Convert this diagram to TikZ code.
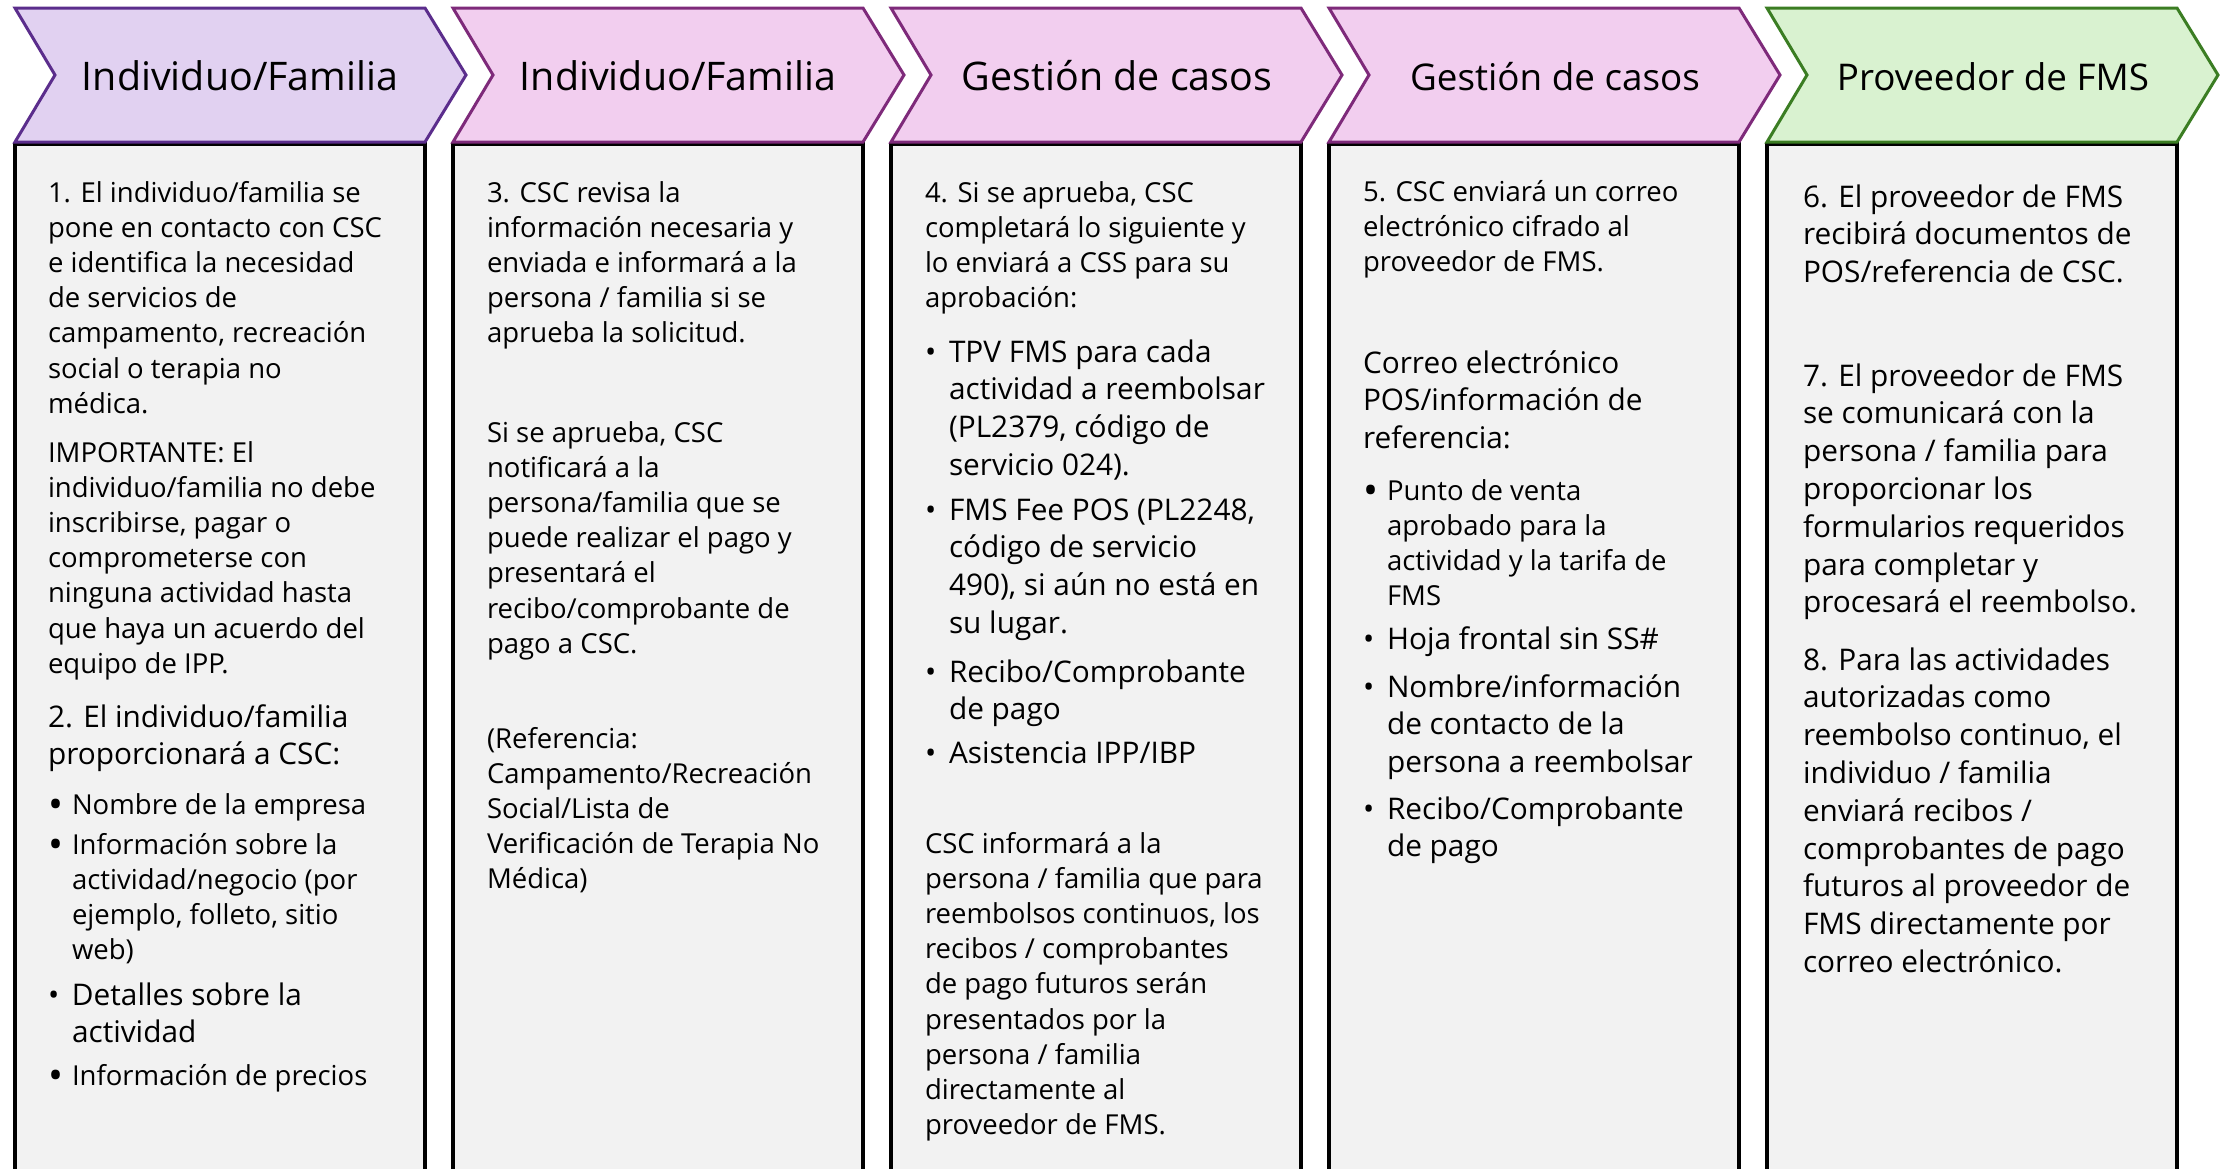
\documentclass[tikz,border=0pt]{standalone}
\usepackage{fontspec}
\setmainfont{Open Sans}
\usepackage{array}
\usepackage{graphicx}
\definecolor{boxfill}{HTML}{F2F2F2}
\definecolor{lavfill}{HTML}{E1D1F1}
\definecolor{lavline}{HTML}{5B2D8C}
\definecolor{pinkfill}{HTML}{F2CEEF}
\definecolor{pinkline}{HTML}{7E2A7A}
\definecolor{greenfill}{HTML}{D9F2D0}
\definecolor{greenline}{HTML}{3B7D23}
\newcommand\txtS{\fontsize{27.5}{35.2}\selectfont}
\newcommand\txtL{\fontsize{29.8}{37.8}\selectfont}
\newcommand\hdA{\fontsize{39.4}{46}\selectfont}
\newcommand\hdB{\fontsize{36.8}{44}\selectfont}
\newcommand\bigbul{\raisebox{-0.17em}{\scalebox{1.45}{•}}}
\newenvironment{lns}{\begin{tabular}[t]{@{}l@{}}}{\end{tabular}}
\newenvironment{bls}{\begin{tabular}[t]{@{}>{\raggedright\arraybackslash}p{24pt}@{}l@{}}}{\end{tabular}}
\begin{document}
\begin{tikzpicture}[x=1pt,y=-1pt,
  body/.style={anchor=base west,inner sep=0pt,outer sep=0pt,text=black},
  head/.style={anchor=base,inner sep=0pt,outer sep=0pt,text=black},
  colbox/.style={draw=black,line width=4pt,fill=boxfill},
  chev/.style={line width=3pt}]
\useasboundingbox (0,0) rectangle (2223,1168);
\fill[white] (0,0) rectangle (2223,1168);
% column boxes
\foreach \L in {15,453,891,1329,1767}{
  \draw[colbox] (\L,1200) -- (\L,144) -- (\L+410,144) -- (\L+410,1200);
}
% chevrons
\draw[chev,draw=lavline,fill=lavfill] (15,8) -- (425,8) -- (466,75) -- (425,142) -- (15,142) -- (55,75) -- cycle;
\draw[chev,draw=pinkline,fill=pinkfill] (453,8) -- (863,8) -- (904,75) -- (863,142) -- (453,142) -- (493,75) -- cycle;
\draw[chev,draw=pinkline,fill=pinkfill] (891,8) -- (1301,8) -- (1342,75) -- (1301,142) -- (891,142) -- (931,75) -- cycle;
\draw[chev,draw=pinkline,fill=pinkfill] (1329,8) -- (1739,8) -- (1780,75) -- (1739,142) -- (1329,142) -- (1369,75) -- cycle;
\draw[chev,draw=greenline,fill=greenfill] (1767,8) -- (2177,8) -- (2218,75) -- (2177,142) -- (1767,142) -- (1807,75) -- cycle;
% headings
\node[head] (h1) at (240,90) {\hdA Individuo/Familia};
\node[head] (h2) at (678,90) {\hdA Individuo/Familia};
\node[head] (h3) at (1117,90) {\hdA Gestión de casos};
\node[head] (h4) at (1555,90) {\hdB Gestión de casos};
\node[head] (h5) at (1993,90) {\hdB Proveedor de FMS};
% column 1
\node[body] (c1a) at (48,202) {\txtS\begin{lns}1. El individuo/familia se\\pone en contacto con CSC\\e identifica la necesidad\\de servicios de\\campamento, recreación\\social o terapia no\\médica.\end{lns}};
\node[body] (c1b) at (48,462) {\txtS\begin{lns}IMPORTANTE: El\\individuo/familia no debe\\inscribirse, pagar o\\comprometerse con\\ninguna actividad hasta\\que haya un acuerdo del\\equipo de IPP.\end{lns}};
\node[body] (c1c) at (48,727) {\txtL\begin{lns}2. El individuo/familia\\proporcionará a CSC:\end{lns}};
\node[body] (c1d) at (48,814) {\txtS\begin{bls}\bigbul&Nombre de la empresa\end{bls}};
\node[body] (c1e) at (48,854) {\txtS\begin{bls}\bigbul&Información sobre la\\&actividad/negocio (por\\&ejemplo, folleto, sitio\\&web)\end{bls}};
\node[body] (c1f) at (48,1005) {\txtL\begin{bls}•&Detalles sobre la\\&actividad\end{bls}};
\node[body] (c1g) at (48,1085) {\txtS\begin{bls}\bigbul&Información de precios\end{bls}};
% column 2
\node[body] (c2a) at (487,202) {\txtS\begin{lns}3. CSC revisa la\\información necesaria y\\enviada e informará a la\\persona / familia si se\\aprueba la solicitud.\end{lns}};
\node[body] (c2b) at (487,442) {\txtS\begin{lns}Si se aprueba, CSC\\notificará a la\\persona/familia que se\\puede realizar el pago y\\presentará el\\recibo/comprobante de\\pago a CSC.\end{lns}};
\node[body] (c2c) at (487,748) {\txtS\begin{lns}(Referencia:\\Campamento/Recreación\\Social/Lista de\\Verificación de Terapia No\\Médica)\end{lns}};
% column 3
\node[body] (c3a) at (925,202) {\txtS\begin{lns}4. Si se aprueba, CSC\\completará lo siguiente y\\lo enviará a CSS para su\\aprobación:\end{lns}};
\node[body] (c3b) at (925,362) {\txtL\begin{bls}•&TPV FMS para cada\\&actividad a reembolsar\\&(PL2379, código de\\&servicio 024).\end{bls}};
\node[body] (c3c) at (925,520) {\txtL\begin{bls}•&FMS Fee POS (PL2248,\\&código de servicio\\&490), si aún no está en\\&su lugar.\end{bls}};
\node[body] (c3d) at (925,682) {\txtL\begin{bls}•&Recibo/Comprobante\\&de pago\end{bls}};
\node[body] (c3e) at (925,763) {\txtL\begin{bls}•&Asistencia IPP/IBP\end{bls}};
\node[body] (c3f) at (925,853) {\txtS\begin{lns}CSC informará a la\\persona / familia que para\\reembolsos continuos, los\\recibos / comprobantes\\de pago futuros serán\\presentados por la\\persona / familia\\directamente al\\proveedor de FMS.\end{lns}};
% column 4
\node[body] (c4a) at (1363,201) {\txtS\begin{lns}5. CSC enviará un correo\\electrónico cifrado al\\proveedor de FMS.\end{lns}};
\node[body] (c4b) at (1363,373) {\txtL\begin{lns}Correo electrónico\\POS/información de\\referencia:\end{lns}};
\node[body] (c4c) at (1363,500) {\txtS\begin{bls}\bigbul&Punto de venta\\&aprobado para la\\&actividad y la tarifa de\\&FMS\end{bls}};
\node[body] (c4d) at (1363,649) {\txtL\begin{bls}•&Hoja frontal sin SS\#\end{bls}};
\node[body] (c4e) at (1363,697) {\txtL\begin{bls}•&Nombre/información\\&de contacto de la\\&persona a reembolsar\end{bls}};
\node[body] (c4f) at (1363,819) {\txtL\begin{bls}•&Recibo/Comprobante\\&de pago\end{bls}};
% column 5
\node[body] (c5a) at (1803,207) {\txtL\begin{lns}6. El proveedor de FMS\\recibirá documentos de\\POS/referencia de CSC.\end{lns}};
\node[body] (c5b) at (1803,386) {\txtL\begin{lns}7. El proveedor de FMS\\se comunicará con la\\persona / familia para\\proporcionar los\\formularios requeridos\\para completar y\\procesará el reembolso.\end{lns}};
\node[body] (c5c) at (1803,670) {\txtL\begin{lns}8. Para las actividades\\autorizadas como\\reembolso continuo, el\\individuo / familia\\enviará recibos /\\comprobantes de pago\\futuros al proveedor de\\FMS directamente por\\correo electrónico.\end{lns}};
\end{tikzpicture}
\end{document}
